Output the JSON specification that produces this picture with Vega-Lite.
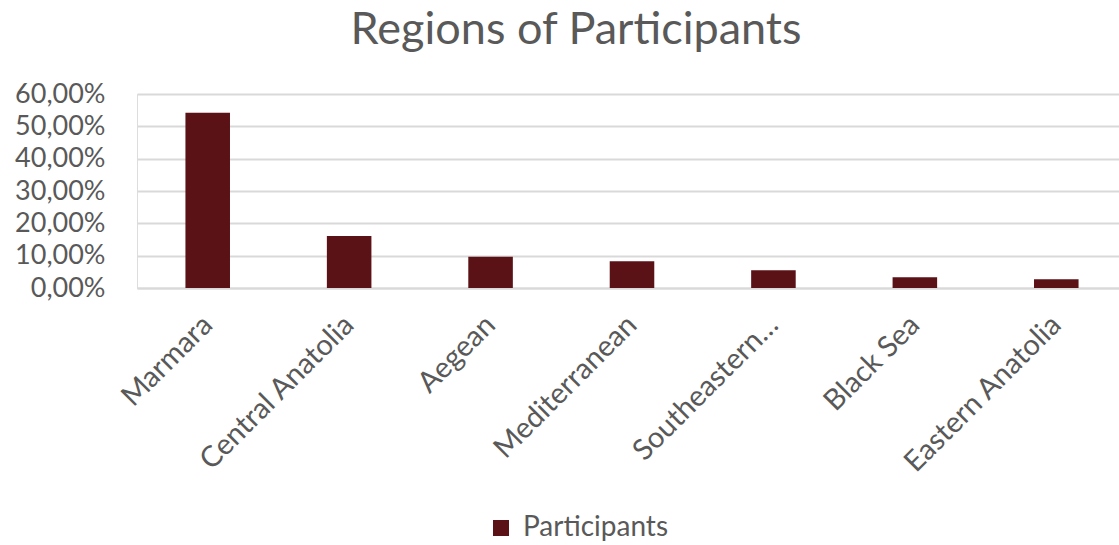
{
  "$schema": "https://vega.github.io/schema/vega-lite/v6.json",
  "width": 982,
  "height": 194,
  "autosize": "none",
  "padding": {"left": 137, "top": 94, "right": 0, "bottom": 257},
  "background": "white",
  "title": {
    "text": "Regions of Participants",
    "font": "Lato",
    "fontSize": 45,
    "fontWeight": "normal",
    "color": "#595959",
    "anchor": "middle",
    "dx": -52,
    "offset": 27
  },
  "data": {
    "values": [
      {"region": "Marmara", "value": 0.542},
      {"region": "Central Anatolia", "value": 0.161},
      {"region": "Aegean", "value": 0.097},
      {"region": "Mediterranean", "value": 0.083},
      {"region": "Southeastern Anatolia", "value": 0.055},
      {"region": "Black Sea", "value": 0.033},
      {"region": "Eastern Anatolia", "value": 0.027}
    ]
  },
  "mark": {"type": "bar", "color": "#5a1217"},
  "encoding": {
    "x": {
      "field": "region",
      "type": "nominal",
      "sort": null,
      "scale": {"range": [0, 990], "paddingInner": 0.685, "paddingOuter": 0.3425},
      "axis": {
        "title": null,
        "labelAngle": -45,
        "labelAlign": "right",
        "labelBaseline": "middle",
        "labelFont": "Lato",
        "labelFontSize": 29,
        "labelColor": "#595959",
        "labelPadding": 32,
        "labelLimit": 300,
        "labelExpr": "datum.label == 'Southeastern Anatolia' ? 'Southeastern…' : datum.label",
        "ticks": false,
        "domainColor": "#d9d9d9",
        "domainWidth": 2,
        "grid": false
      }
    },
    "y": {
      "field": "value",
      "type": "quantitative",
      "scale": {"domain": [0, 0.6]},
      "axis": {
        "title": null,
        "values": [0, 0.1, 0.2, 0.3, 0.4, 0.5, 0.6],
        "labelExpr": "replace(format(datum.value, '.2%'), '.', ',')",
        "labelFont": "Lato",
        "labelFontSize": 27,
        "labelColor": "#595959",
        "labelPadding": 32,
        "ticks": false,
        "domain": false,
        "gridColor": "#d9d9d9",
        "gridWidth": 2
      }
    },
    "color": {
      "datum": "Participants",
      "scale": {"range": ["#5a1217"]},
      "legend": {
        "title": null,
        "orient": "none",
        "legendX": 350,
        "legendY": 420,
        "symbolType": "square",
        "symbolSize": 256,
        "symbolStrokeWidth": 0,
        "labelFont": "Lato",
        "labelFontSize": 28,
        "labelColor": "#595959",
        "labelOffset": 8
      }
    }
  }
}
